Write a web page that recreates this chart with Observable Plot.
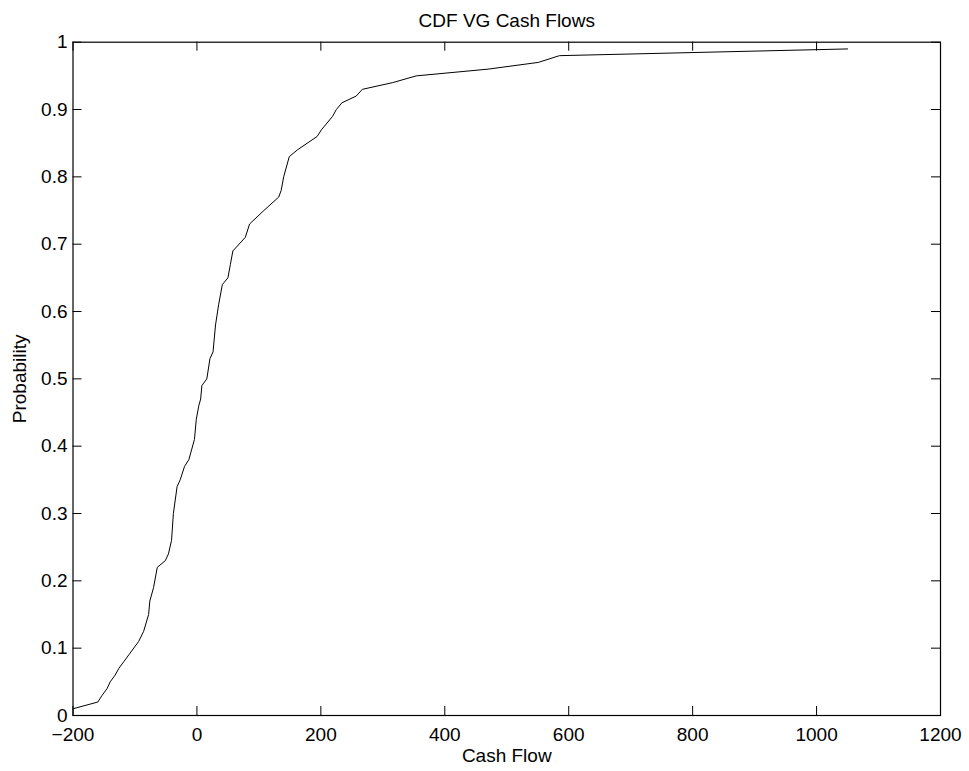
<!DOCTYPE html>
<html>
<head>
<meta charset="utf-8">
<script src="https://cdn.jsdelivr.net/npm/d3@7"></script>
<script src="https://cdn.jsdelivr.net/npm/@observablehq/plot@0.6"></script>
<style>
  html, body { margin: 0; padding: 0; background: #fff; }
  #chart svg { display: block; }
</style>
</head>
<body>
<div id="chart"></div>
<script>
const title = "CDF VG Cash Flows";
const xLabel = "Cash Flow";
const yLabel = "Probability";

const cashFlow = [-200, -160, -153, -145, -140, -132, -126, -118, -110, -94, -86, -78, -76, -70, -64, -51, -46, -41, -38, -32, -27, -20, -13, -10, -4, -1, 3, 6, 8, 16, 21, 26, 30, 35, 41, 50, 54, 58, 78, 85, 108, 132, 136, 140, 149, 162, 194, 201, 219, 225, 234, 257, 267, 316, 354, 470, 551, 585, 1050];
const probability = [0.01, 0.02, 0.03, 0.04, 0.05, 0.06, 0.07, 0.08, 0.09, 0.11, 0.125, 0.15, 0.17, 0.19, 0.22, 0.23, 0.24, 0.26, 0.30, 0.34, 0.35, 0.37, 0.38, 0.39, 0.41, 0.44, 0.46, 0.47, 0.49, 0.50, 0.53, 0.54, 0.58, 0.61, 0.64, 0.65, 0.67, 0.69, 0.71, 0.73, 0.75, 0.77, 0.78, 0.80, 0.83, 0.84, 0.86, 0.87, 0.89, 0.90, 0.91, 0.92, 0.93, 0.94, 0.95, 0.96, 0.97, 0.98, 0.99];

const xTicks = [-200, 0, 200, 400, 600, 800, 1000, 1200];
const yTicks = [0, 0.1, 0.2, 0.3, 0.4, 0.5, 0.6, 0.7, 0.8, 0.9, 1];

const data = cashFlow.map((x, i) => ({x, y: probability[i]}));

const W = 969, H = 771;
const mL = 72.5, mR = 29, mT = 41.7, mB = 56;
const frameW = W - mL - mR, frameH = H - mT - mB;
const tickLen = 9;
const fs = 19;

const chart = Plot.plot({
  width: W,
  height: H,
  marginLeft: mL,
  marginRight: mR,
  marginTop: mT,
  marginBottom: mB,
  style: {fontFamily: "'Liberation Sans', Arial, Helvetica, sans-serif", fontSize: fs + "px", background: "#fff", color: "#000"},
  x: {domain: [-200, 1200]},
  y: {domain: [0, 1]},
  marks: [
    Plot.line(data, {x: "x", y: "y", stroke: "#000", strokeWidth: 1}),
    // inward ticks on all four sides
    Plot.tickX(xTicks, {x: d => d, insetTop: frameH - tickLen, stroke: "#000"}),
    Plot.tickX(xTicks, {x: d => d, insetBottom: frameH - tickLen, stroke: "#000"}),
    Plot.tickY(yTicks, {y: d => d, insetRight: frameW - tickLen, stroke: "#000"}),
    Plot.tickY(yTicks, {y: d => d, insetLeft: frameW - tickLen, stroke: "#000"}),
    Plot.axisX({ticks: xTicks, tickSize: 0, tickPadding: 11.5, label: null, fontSize: fs,
      tickFormat: d => d < 0 ? "\u2212" + Math.abs(d) : String(d)}),
    Plot.axisY({ticks: yTicks, tickSize: 0, tickPadding: 5.5, label: null, fontSize: fs,
      tickFormat: d => String(d)}),
    Plot.frame({stroke: "#000", strokeWidth: 1.2}),
    Plot.text([title], {frameAnchor: "top", lineAnchor: "middle", textAnchor: "middle", dy: -21.5, fontSize: fs, fill: "#000"}),
    Plot.text([xLabel], {frameAnchor: "bottom", lineAnchor: "middle", textAnchor: "middle", dy: 40, fontSize: fs, fill: "#000"}),
    Plot.text([yLabel], {frameAnchor: "left", lineAnchor: "middle", textAnchor: "middle", dx: -53.5, rotate: -90, fontSize: fs, fill: "#000"})
  ]
});
document.getElementById("chart").appendChild(chart);
</script>
</body>
</html>
